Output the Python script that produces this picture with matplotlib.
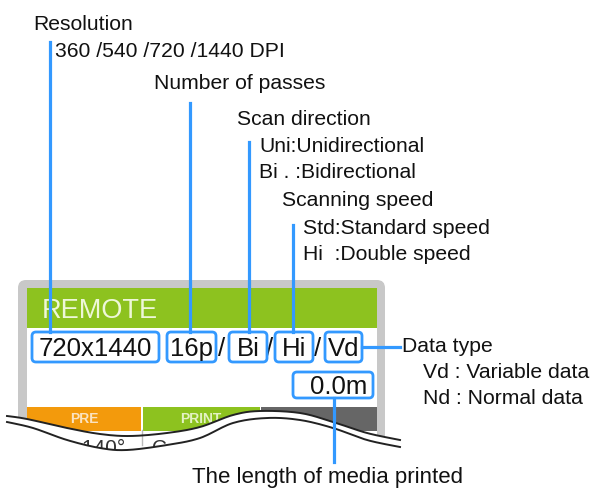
"""
plot.py

Callout diagram of the printer LOCAL/REMOTE display: the status line
fields (resolution, passes, scan direction, speed, data type) each get
a blue box with a leader line to its explanation text.
"""

import numpy as np
import matplotlib
matplotlib.use("Agg")
import matplotlib.pyplot as plt
from matplotlib.patches import FancyBboxPatch, Polygon

plt.rcParams["font.family"] = ["Liberation Sans", "DejaVu Sans"]

# Status line fields shown on the panel and the explanation texts.
field_labels = ["720x1440", "16p", "Bi", "Hi", "Vd"]
length_label = "0.0m"
title_label = "REMOTE"
bar_labels = ["PRE", "PRINT"]

resolution_text = ["Resolution", "360 /540 /720 /1440 DPI"]
passes_text = ["Number of passes"]
direction_text = ["Scan direction", "Uni:Unidirectional", "Bi . :Bidirectional"]
speed_text = ["Scanning speed", "Std:Standard speed", "Hi  :Double speed"]
datatype_text = ["Data type", "Vd : Variable data", "Nd : Normal data"]
length_text = "The length of media printed"

# Torn-edge outline along the bottom of the panel (pixel coords).
wave_x_top = [7, 27, 67, 100, 130, 167, 200, 233, 260, 300, 333, 367, 400]
wave_y_top = [416, 419, 428, 434, 436, 433, 427, 415, 411, 413, 422, 433, 440]
wave_x_bot = [7, 33, 67, 100, 127, 167, 200, 233, 267, 300, 333, 367, 400]
wave_y_bot = [422, 428, 440, 448, 450, 445, 438, 423, 418, 420, 428, 440, 447]

BLUE = "#3399ff"
GREEN = "#8dc21f"
ORANGE = "#f39a0c"
FRAME = "#c8c8c8"
TXT = "#111111"
FS = 15.2


def rbox(ax, x0, y0, x1, y1, r, **kw):
    p = FancyBboxPatch((x0, y0), x1 - x0, y1 - y0,
                       boxstyle=f"round,pad=0,rounding_size={r}", **kw)
    ax.add_patch(p)
    return p


def smooth(xs, ys, n=12):
    # Catmull-Rom through the outline points so the cut edge looks drawn
    pts = np.column_stack([xs, ys]).astype(float)
    pts = np.vstack([pts[0], pts, pts[-1]])
    out = []
    for i in range(1, len(pts) - 2):
        p0, p1, p2, p3 = pts[i - 1], pts[i], pts[i + 1], pts[i + 2]
        for t in np.linspace(0, 1, n, endpoint=False):
            out.append(0.5 * ((2 * p1) + (-p0 + p2) * t
                              + (2 * p0 - 5 * p1 + 4 * p2 - p3) * t ** 2
                              + (-p0 + 3 * p1 - 3 * p2 + p3) * t ** 3))
    out.append(pts[-2])
    out = np.array(out)
    return out[:, 0], out[:, 1]


fig = plt.figure(figsize=(5.92, 4.90), dpi=100)
ax = fig.add_axes([0, 0, 1, 1])
ax.set_xlim(0, 592)
ax.set_ylim(490, 0)
ax.axis("off")

# --- panel ---
rbox(ax, 18, 280, 385, 470, 8, facecolor=FRAME, edgecolor="none", zorder=1)
ax.add_patch(plt.Rectangle((27, 288), 350, 182, facecolor="white", edgecolor="none", zorder=1.1))
ax.add_patch(plt.Rectangle((27, 288), 350, 40, facecolor=GREEN, edgecolor="none", zorder=1.2))
ax.text(42, 318, title_label, fontsize=19.5, color="#eef7d8", va="baseline", zorder=1.3)

# status bar
ax.add_patch(plt.Rectangle((27, 407), 114, 24, facecolor=ORANGE, edgecolor="none", zorder=1.2))
ax.add_patch(plt.Rectangle((143, 407), 117, 24, facecolor=GREEN, edgecolor="none", zorder=1.2))
ax.add_patch(plt.Rectangle((261, 407), 116, 24, facecolor="#666666", edgecolor="none", zorder=1.2))
ax.text(84, 423, bar_labels[0], fontsize=10, color="#fbe3c0", weight="bold",
        ha="center", va="baseline", zorder=1.3)
ax.text(201, 423, bar_labels[1], fontsize=10, color="#e4f2c4", weight="bold",
        ha="center", va="baseline", zorder=1.3)

# status fields with boxes
box_x = [(32, 159), (167, 216), (229, 267), (275, 313), (325, 362)]
for lab, (x0, x1) in zip(field_labels, box_x):
    rbox(ax, x0, 332, x1, 362, 4, facecolor="white", edgecolor=BLUE, linewidth=2, zorder=3)
    ax.text((x0 + x1) / 2, 356, lab, fontsize=18.5, color=TXT, ha="center",
            va="baseline", zorder=3.5)
for sx in [222, 270, 318]:
    ax.text(sx, 356, "/", fontsize=18.5, color=TXT, ha="center", va="baseline", zorder=2)

rbox(ax, 293, 372, 373, 398, 4, facecolor="white", edgecolor=BLUE, linewidth=2, zorder=3)
ax.text(367, 394, length_label, fontsize=18.5, color=TXT, ha="right", va="baseline", zorder=3.5)

# --- torn edge ---
tx, ty = smooth(wave_x_top, wave_y_top)
bx, by = smooth(wave_x_bot, wave_y_bot)
top_poly = [(0, ty[0])] + list(zip(tx, ty)) + [(400, 490), (0, 490)]
ax.add_patch(Polygon(top_poly, closed=True, facecolor="white", edgecolor="none", zorder=5))
ax.text(76, 454, "\u00b7140\u00b0", fontsize=15, color="#333333", va="baseline", zorder=6)
ax.text(152, 454, "C", fontsize=15, color="#333333", va="baseline", zorder=6)
ax.plot([142, 142], [430, 445], color="#bbbbbb", linewidth=1, zorder=6)
bot_poly = [(0, by[0])] + list(zip(bx, by)) + [(400, 490), (0, 490)]
ax.add_patch(Polygon(bot_poly, closed=True, facecolor="white", edgecolor="none", zorder=7))
ax.plot(tx, ty, color="#222222", linewidth=1.4, zorder=8)
ax.plot(bx, by, color="#222222", linewidth=1.4, zorder=8)

# --- leader lines ---
LW = 2.3
ax.plot([50, 50], [42, 332], color=BLUE, linewidth=LW, zorder=4)
ax.plot([190, 190], [103, 332], color=BLUE, linewidth=LW, zorder=4)
ax.plot([249, 249], [142, 332], color=BLUE, linewidth=LW, zorder=4)
ax.plot([293, 293], [225, 332], color=BLUE, linewidth=LW, zorder=4)
ax.plot([362, 400], [347, 347], color=BLUE, linewidth=LW, zorder=4)
ax.plot([334, 334], [398, 462], color=BLUE, linewidth=LW, zorder=9)

# --- explanation texts ---
def txt(x, y, s, **kw):
    ax.text(x, y, s, fontsize=FS, color=TXT, va="baseline", zorder=10, **kw)


txt(33, 30, resolution_text[0])
txt(55, 57, resolution_text[1])
txt(154, 89, passes_text[0])
txt(237, 125, direction_text[0])
txt(259, 152, direction_text[1])
txt(259, 178, direction_text[2])
txt(282, 206, speed_text[0])
txt(303, 234, speed_text[1])
txt(303, 260, speed_text[2])
txt(402, 352, datatype_text[0])
txt(423, 378, datatype_text[1])
txt(423, 404, datatype_text[2])
ax.text(328, 483, length_text, fontsize=16, color=TXT, ha="center", va="baseline", zorder=10)

fig.savefig("out.png", dpi=100)
